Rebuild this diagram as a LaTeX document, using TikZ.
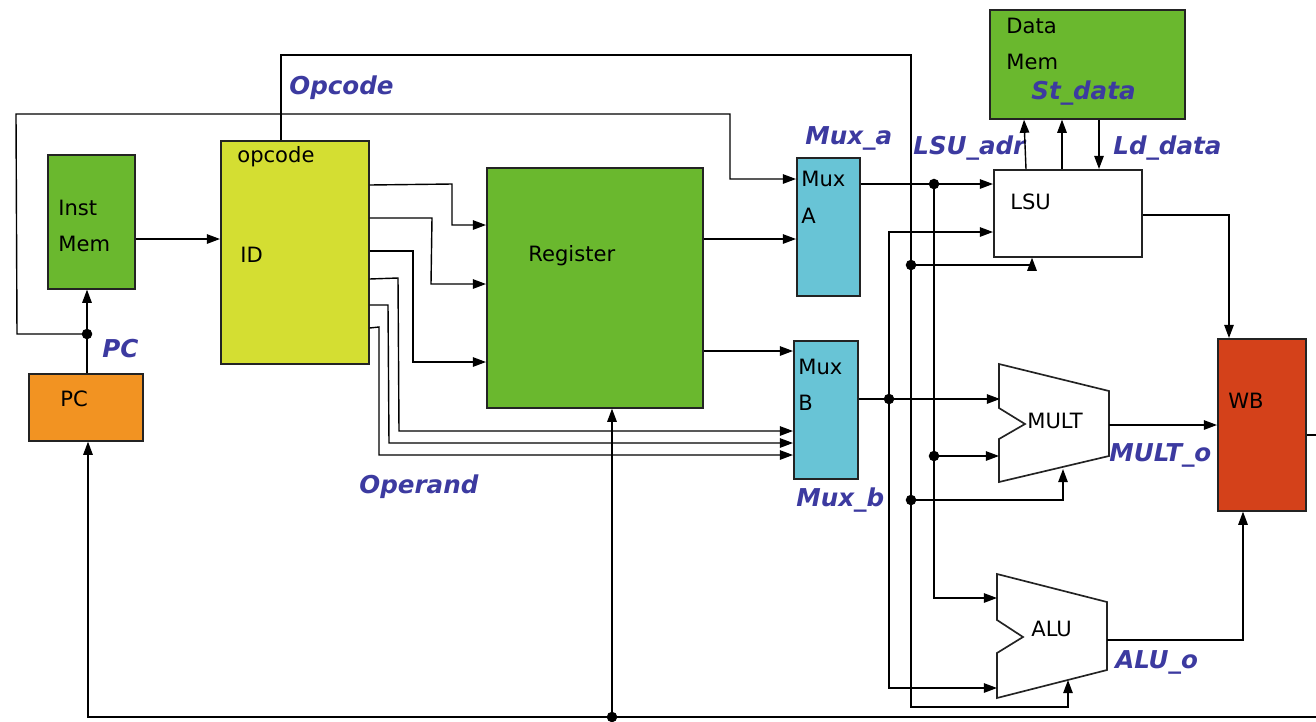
\documentclass[tikz,border=0pt]{standalone}
\usepackage{fontspec}
\setmainfont{DejaVu Sans}
\usetikzlibrary{arrows.meta}
\definecolor{memgreen}{RGB}{106,184,46}
\definecolor{idyellow}{RGB}{212,222,50}
\definecolor{pcorange}{RGB}{242,147,34}
\definecolor{muxcyan}{RGB}{104,196,214}
\definecolor{wbred}{RGB}{212,65,26}
\definecolor{lblblue}{RGB}{60,58,160}
\definecolor{edge}{RGB}{35,35,35}
\begin{document}
\begin{tikzpicture}[x=0.02cm,y=-0.02cm,
  box/.style={draw=edge, line width=0.95pt, inner sep=0pt, anchor=north west},
  txt/.style={anchor=west, inner sep=0pt, font=\fontsize{12}{14}\selectfont},
  lbl/.style={anchor=west, inner sep=0pt, text=lblblue, font=\fontsize{14}{16}\selectfont\bfseries\itshape},
  wire/.style={line width=0.8pt, black},
  arr/.style={wire, -{Triangle[length=7.5pt,width=5.4pt]}},
  jdot/.style={circle, fill=black, inner sep=0pt, minimum size=6pt},
  trap/.style={draw=edge, line width=0.95pt, fill=white}]
\useasboundingbox (0,0) rectangle (1316,721);

% ---------- blocks ----------
\node[box, fill=memgreen, minimum width=1.74cm, minimum height=2.68cm] (imem) at (47,154) {};
\node[box, fill=pcorange, minimum width=2.28cm, minimum height=1.34cm] (pc) at (28,373) {};
\node[box, fill=idyellow, minimum width=2.96cm, minimum height=4.46cm] (id) at (220,140) {};
\node[box, fill=memgreen, minimum width=4.32cm, minimum height=4.80cm] (reg) at (486,167) {};
\node[box, fill=muxcyan, minimum width=1.26cm, minimum height=2.76cm] (muxa) at (796,157) {};
\node[box, fill=muxcyan, minimum width=1.28cm, minimum height=2.76cm] (muxb) at (793,340) {};
\node[box, fill=memgreen, minimum width=3.90cm, minimum height=2.18cm] (dmem) at (989,9) {};
\node[box, fill=white, minimum width=2.96cm, minimum height=1.74cm] (lsu) at (993,169) {};
\node[box, fill=wbred, minimum width=1.76cm, minimum height=3.44cm] (wb) at (1217,338) {};

\draw[trap] (999,364) -- (1109,391) -- (1109,456) -- (999,482) -- (999,439) -- (1025,424) -- (999,408) -- cycle;
\draw[trap] (997,574) -- (1107,602) -- (1107,670) -- (997,698) -- (997,653) -- (1023,637) -- (997,620) -- cycle;

% ---------- block texts ----------
\node[txt] (tinst) at (58,208) {Inst};
\node[txt] (timem) at (58,244) {Mem};
\node[txt] (tpc) at (60,399) {PC};
\node[txt] (topc) at (237,157) {opcode};
\node[txt] (tid) at (240,255) {ID};
\node[txt] (treg) at (528,256) {Register};
\node[txt] (tmuxa) at (801,179) {Mux};
\node[txt] (ta) at (801,216) {A};
\node[txt] (tmuxb) at (798,367) {Mux};
\node[txt] (tb) at (798,403) {B};
\node[txt] (tdata) at (1006,26) {Data};
\node[txt] (tdmem) at (1006,62) {Mem};
\node[txt] (tlsu) at (1010,202) {LSU};
\node[txt] (mult) at (1027,421) {MULT};
\node[txt] (alu) at (1031,629) {ALU};
\node[txt] (twb) at (1228,401) {WB};

% ---------- signal labels ----------
\node[lbl] (lopcode) at (289,88) {Opcode};
\node[lbl] (lpc) at (102,349) {PC};
\node[lbl] (loperand) at (359,487) {Operand};
\node[lbl] (lmuxa) at (805,138) {Mux\_a};
\node[lbl] (lmuxb) at (796,500) {Mux\_b};
\node[lbl] (llsuadr) at (913,148) {LSU\_adr};
\node[lbl] (lld) at (1113,148) {Ld\_data};
\node[lbl] (lst) at (1031,93) {St\_data};
\node[lbl] (lmulto) at (1109,455) {MULT\_o};
\node[lbl] (lalo) at (1115,662) {ALU\_o};

% ---------- ports / junctions ----------
\coordinate (jpc) at (87,334);
\coordinate (jop1) at (911,265);
\coordinate (jop2) at (911,500);
\coordinate (ja) at (934,184);
\coordinate (ja2) at (934,456);
\coordinate (jb) at (889,399);
\coordinate (jbot) at (612,717);
\coordinate (multin1) at (1000,399);
\coordinate (multin2) at (999,456);
\coordinate (multbot) at (1063,469);
\coordinate (multout) at (1109,425);
\coordinate (aluin1) at (997,598);
\coordinate (aluin2) at (997,688);
\coordinate (alubot) at (1068,680);
\coordinate (aluout) at (1107,640);
\coordinate (wbout) at (1316,435);
\coordinate (fbin) at (1316,717);

% ---------- connectors ----------
% PC -> Inst Mem, PC loop to Mux A
\draw[arr] (pc.north -| jpc) -- (imem.south -| jpc);
\draw[arr] (jpc) -- (17,334) -- (16,114) -- (730,114) -- (730,179) -- (muxa.west |- 0,179);
% Inst Mem -> ID
\draw[arr] (imem.east |- 0,239) -- (id.west |- 0,239);
% opcode bus
\draw[arr] (id.north -| 281,0) -- (281,55) -- (911,55) -- (jop1) -- (jop2) -- (911,707) -- (1068,707) -- (alubot);
\draw[arr] (jop1) -- (1032,265) -- (lsu.south -| 1032,0);
\draw[arr] (jop2) -- (1063,500) -- (multbot);
% ID -> Register
\draw[arr] (id.east |- 0,185) -- (452,184) -- (452,225) -- (reg.west |- 0,225);
\draw[arr] (id.east |- 0,218) -- (432,218) -- (431,284) -- (reg.west |- 0,284);
\draw[arr] (id.east |- 0,251) -- (413,251) -- (413,362) -- (reg.west |- 0,362);
% ID -> Mux B (operands)
\draw[arr] (id.east |- 0,279) -- (398,278) -- (399,431) -- (muxb.west |- 0,431);
\draw[arr] (id.east |- 0,305) -- (388,305) -- (389,443) -- (muxb.west |- 0,443);
\draw[arr] (id.east |- 0,328) -- (379,327) -- (379,455) -- (muxb.west |- 0,455);
% Register -> Muxes
\draw[arr] (reg.east |- 0,239) -- (muxa.west |- 0,239);
\draw[arr] (reg.east |- 0,351) -- (muxb.west |- 0,351);
% Mux A output
\draw[arr] (muxa.east |- ja) -- (lsu.west |- ja);
\draw[arr] (ja) -- (934,598) -- (aluin1);
\draw[arr] (ja2) -- (multin2);
% Mux B output
\draw[arr] (muxb.east |- jb) -- (multin1);
\draw[arr] (jb) -- (889,232) -- (lsu.west |- 0,232);
\draw[arr] (jb) -- (889,688) -- (aluin2);
% LSU <-> Data Mem
\draw[arr] (lsu.north -| 1026,0) -- (dmem.south -| 1024,0);
\draw[arr] (lsu.north -| 1062,0) -- (dmem.south -| 1062,0);
\draw[arr] (dmem.south -| 1099,0) -- (lsu.north -| 1099,0);
% results -> WB
\draw[arr] (lsu.east |- 0,215) -- (1229,215) -- (wb.north -| 1229,0);
\draw[arr] (multout) -- (wb.west |- multout);
\draw[arr] (aluout) -- (1243,640) -- (wb.south -| 1243,0);
\draw[wire] (wb.east |- wbout) -- (wbout);
% feedback bus
\draw[arr] (fbin) -- (jbot) -- (88,717) -- (pc.south -| 88,0);
\draw[arr] (jbot) -- (reg.south -| jbot);

% ---------- dots ----------
\foreach \j in {jpc,jop1,jop2,ja,ja2,jb,jbot} \node[jdot] at (\j) {};
\end{tikzpicture}
\end{document}
